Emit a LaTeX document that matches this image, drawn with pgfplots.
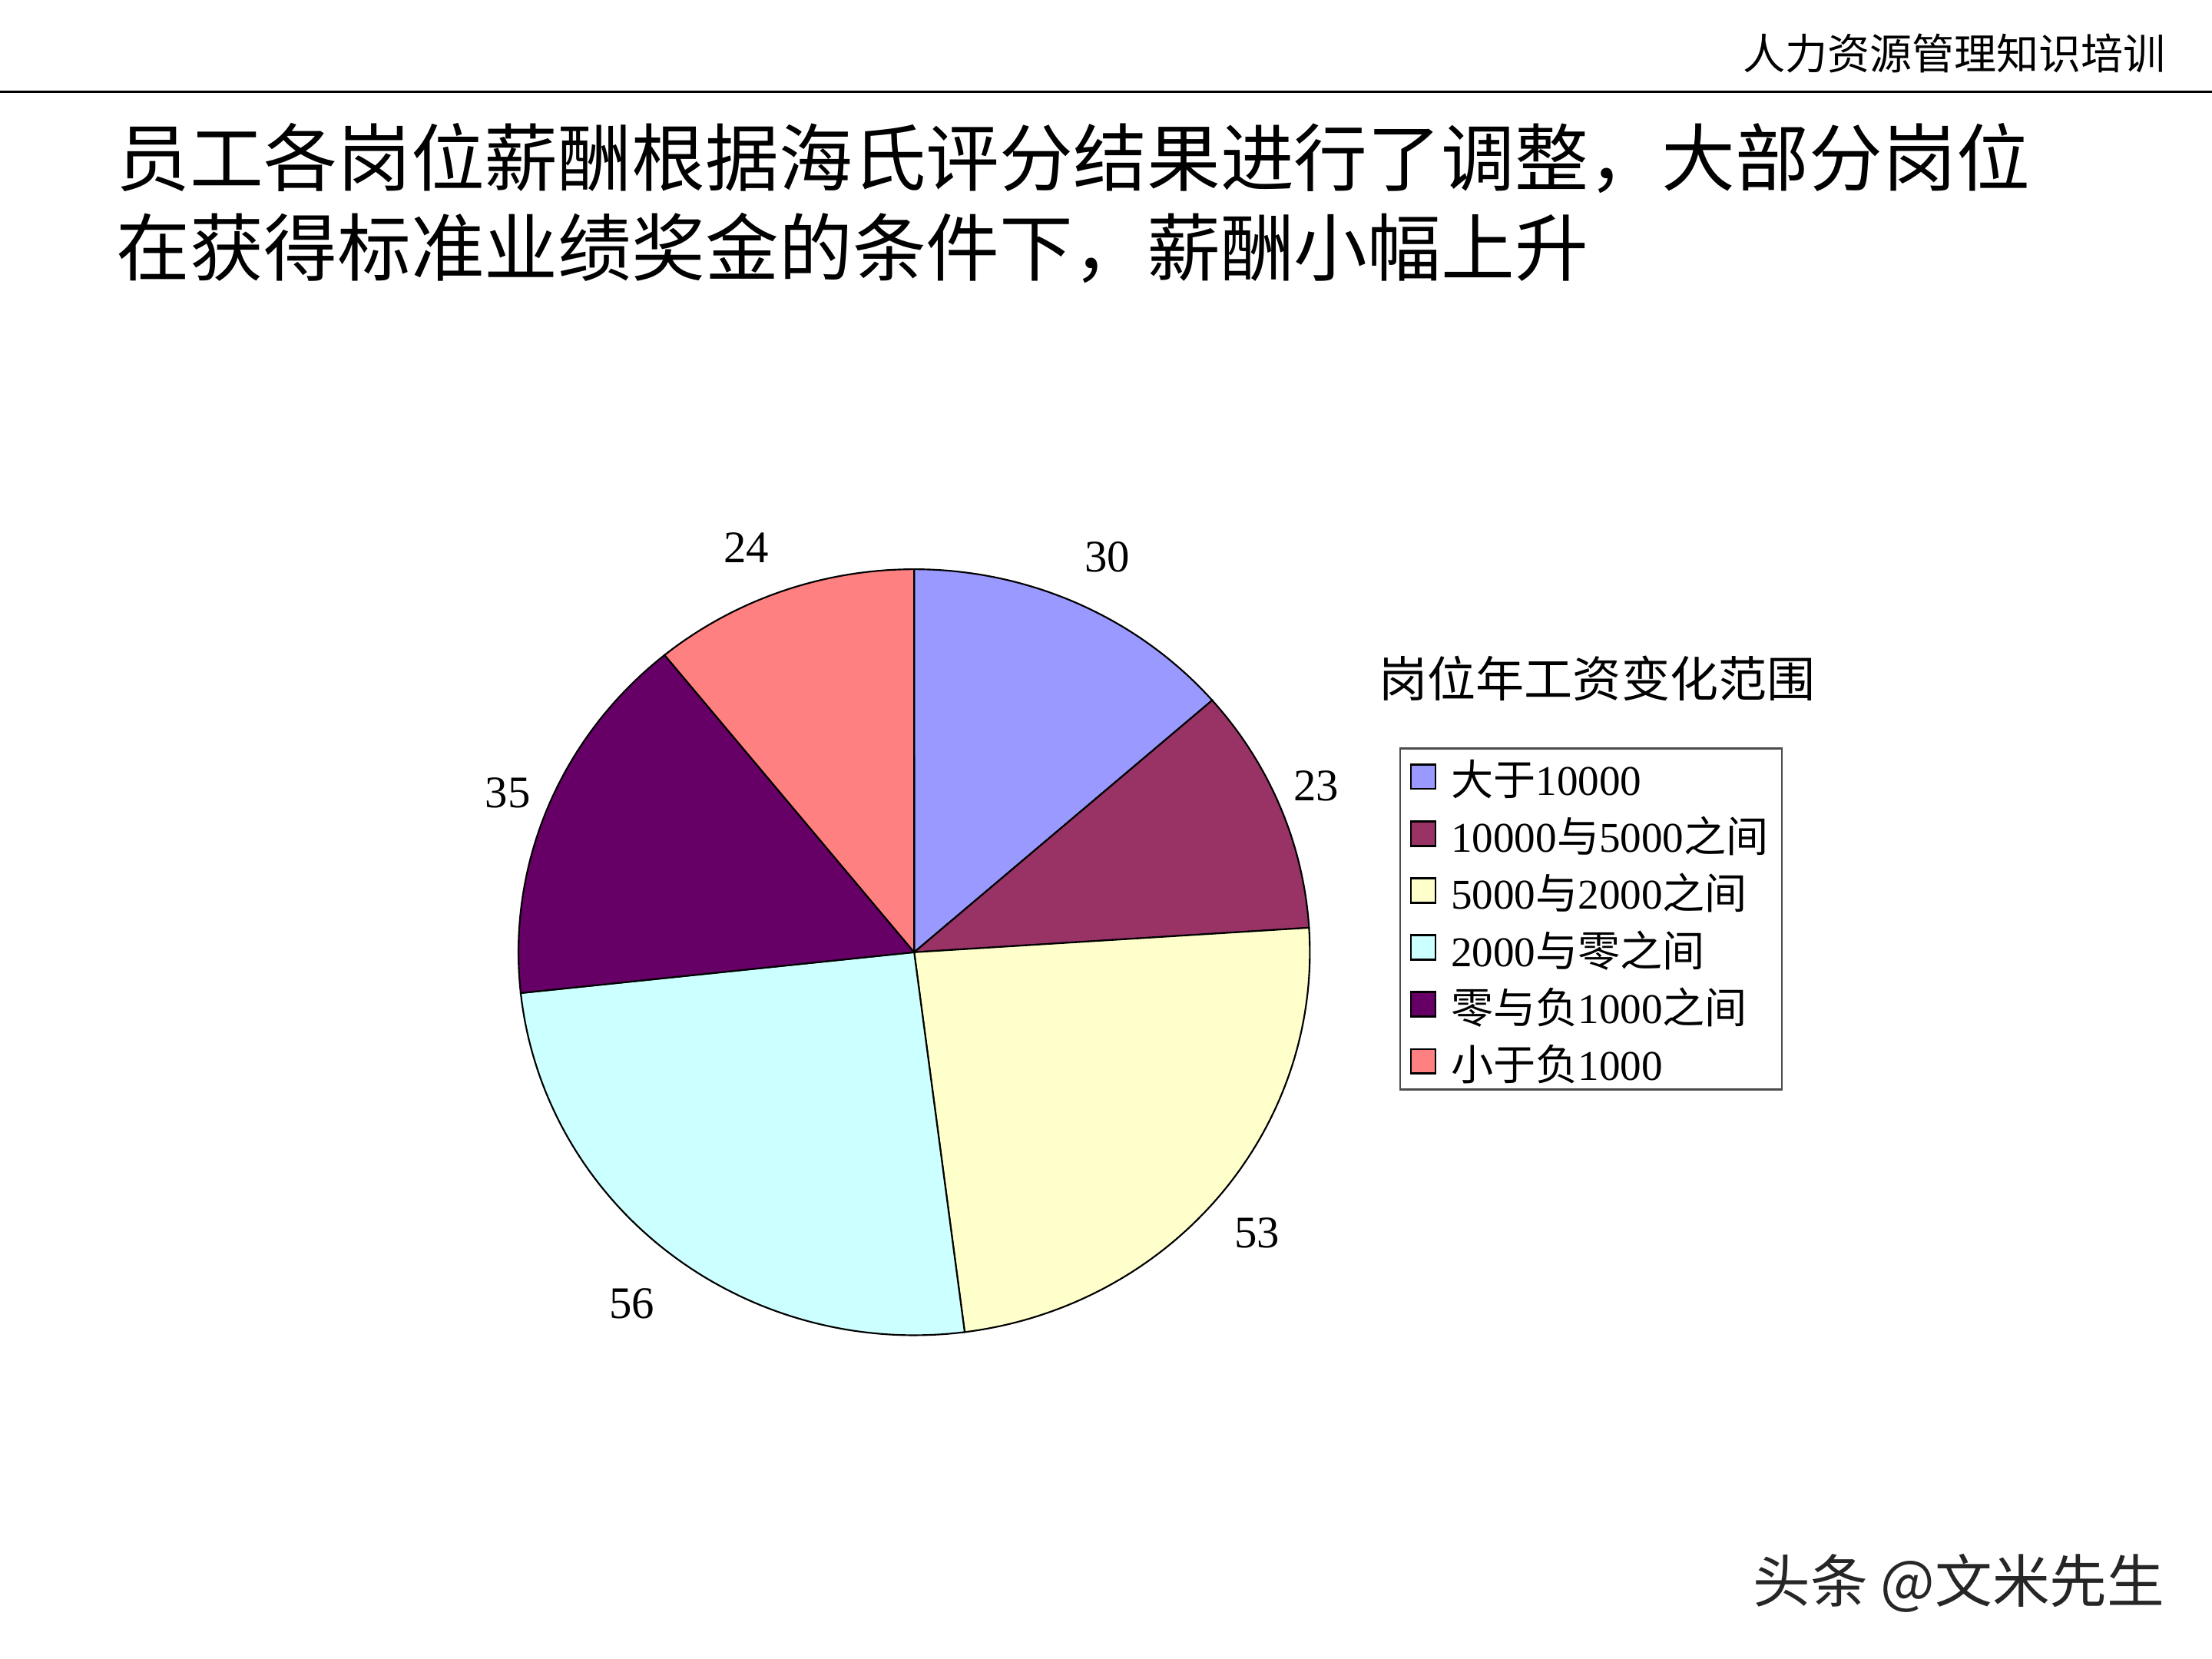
\documentclass[border=0pt]{standalone}
\usepackage{pgfplots}
\pgfplotsset{compat=1.18}
\usepackage{fontspec}
\setmainfont{Liberation Serif}
\newfontfamily\cjk{Noto Sans CJK SC}
\definecolor{cA}{HTML}{9999FF}
\definecolor{cB}{HTML}{993366}
\definecolor{cC}{HTML}{FFFFCC}
\definecolor{cD}{HTML}{CCFFFF}
\definecolor{cE}{HTML}{660066}
\definecolor{cF}{HTML}{FF8080}
% data values
\def\vA{30}\def\vB{23}\def\vC{53}\def\vD{56}\def\vE{35}\def\vF{24}
\pgfmathsetmacro\tot{\vA+\vB+\vC+\vD+\vE+\vF}
\pgfmathsetmacro\aA{90}
\pgfmathsetmacro\aB{\aA-(\vA/\tot)*360}
\pgfmathsetmacro\aC{\aB-(\vB/\tot)*360}
\pgfmathsetmacro\aD{\aC-(\vC/\tot)*360}
\pgfmathsetmacro\aE{\aD-(\vD/\tot)*360}
\pgfmathsetmacro\aF{\aE-(\vE/\tot)*360}
\pgfmathsetmacro\aG{\aF-(\vF/\tot)*360}
\def\cx{648}\def\cy{675}\def\rx{280.5}\def\ry{271.5}
\begin{document}
\begin{tikzpicture}
\useasboundingbox (0,0) rectangle (470.4pt,352.8pt);
\begin{axis}[
  at={(0,0)}, anchor=south west,
  scale only axis, width=470.4pt, height=352.8pt,
  xmin=0, xmax=1568, ymin=0, ymax=1176, y dir=reverse,
  hide axis, clip=false,
  legend style={at={(axis cs:992,530)}, anchor=north west, draw=black!70, line width=0.35pt,
    font=\fontsize{9}{10}\selectfont, row sep=2.7pt, inner xsep=2.3pt, inner ysep=1.3pt,
    nodes={inner sep=0.5pt, text height=7.6pt, text depth=0.2pt},
    /tikz/every odd column/.append style={column sep=2.8pt},
    cells={anchor=west}},
  legend cell align=left,
  legend image code/.code={\path[draw=none,fill=none] (0pt,-0.2pt) rectangle (5.2pt,5pt);
    \draw[#1,draw=black,line width=0.4pt,overlay] (0pt,-2.3pt) rectangle (5.2pt,2.9pt);},
]
\addplot[fill=cA, draw=black, line width=0.35pt, domain=\aB:\aA, samples=60, variable=\t]
  ({\cx+\rx*cos(\t)},{\cy-\ry*sin(\t)}) -- (\cx,\cy) -- cycle;
\addplot[fill=cB, draw=black, line width=0.35pt, domain=\aC:\aB, samples=60, variable=\t]
  ({\cx+\rx*cos(\t)},{\cy-\ry*sin(\t)}) -- (\cx,\cy) -- cycle;
\addplot[fill=cC, draw=black, line width=0.35pt, domain=\aD:\aC, samples=80, variable=\t]
  ({\cx+\rx*cos(\t)},{\cy-\ry*sin(\t)}) -- (\cx,\cy) -- cycle;
\addplot[fill=cD, draw=black, line width=0.35pt, domain=\aE:\aD, samples=80, variable=\t]
  ({\cx+\rx*cos(\t)},{\cy-\ry*sin(\t)}) -- (\cx,\cy) -- cycle;
\addplot[fill=cE, draw=black, line width=0.35pt, domain=\aF:\aE, samples=60, variable=\t]
  ({\cx+\rx*cos(\t)},{\cy-\ry*sin(\t)}) -- (\cx,\cy) -- cycle;
\addplot[fill=cF, draw=black, line width=0.35pt, domain=\aG:\aF, samples=60, variable=\t]
  ({\cx+\rx*cos(\t)},{\cy-\ry*sin(\t)}) -- (\cx,\cy) -- cycle;
\legend{{\cjk 大于}10000, 10000{\cjk 与}5000{\cjk 之间}, 5000{\cjk 与}2000{\cjk 之间},
  2000{\cjk 与零之间}, {\cjk 零与负}1000{\cjk 之间}, {\cjk 小于负}1000}
% data labels
\begin{scope}[every node/.style={font=\fontsize{9.6}{11}\selectfont}]
\node at (axis cs:785,395) {30};
\node at (axis cs:933,557) {23};
\node at (axis cs:891,874) {53};
\node at (axis cs:448,924) {56};
\node at (axis cs:360,562) {35};
\node at (axis cs:529,388) {24};
\end{scope}
% header, title, legend title, watermark
\node[anchor=east, font=\cjk\fontsize{9}{10}\selectfont, inner sep=0pt] at (axis cs:1536,38) {人力资源管理知识培训};
\draw[line width=0.55pt] (axis cs:0,65) -- (axis cs:1568,65);
\node[anchor=west, font=\cjk\fontsize{15.65}{18}\selectfont, inner sep=0pt] at (axis cs:82,112) {员工各岗位薪酬根据海氏评分结果进行了调整，大部分岗位};
\node[anchor=west, font=\cjk\fontsize{15.65}{18}\selectfont, inner sep=0pt] at (axis cs:82,176) {在获得标准业绩奖金的条件下，薪酬小幅上升};
\node[anchor=west, font=\cjk\fontsize{10.3}{12}\selectfont, inner sep=0pt] at (axis cs:977,481) {岗位年工资变化范围};
\node[anchor=east, font=\cjk\fontsize{12.2}{14}\selectfont, text=black!85, inner sep=0pt] at (axis cs:1535,1122) {头条 @文米先生};
\end{axis}
\end{tikzpicture}
\end{document}
